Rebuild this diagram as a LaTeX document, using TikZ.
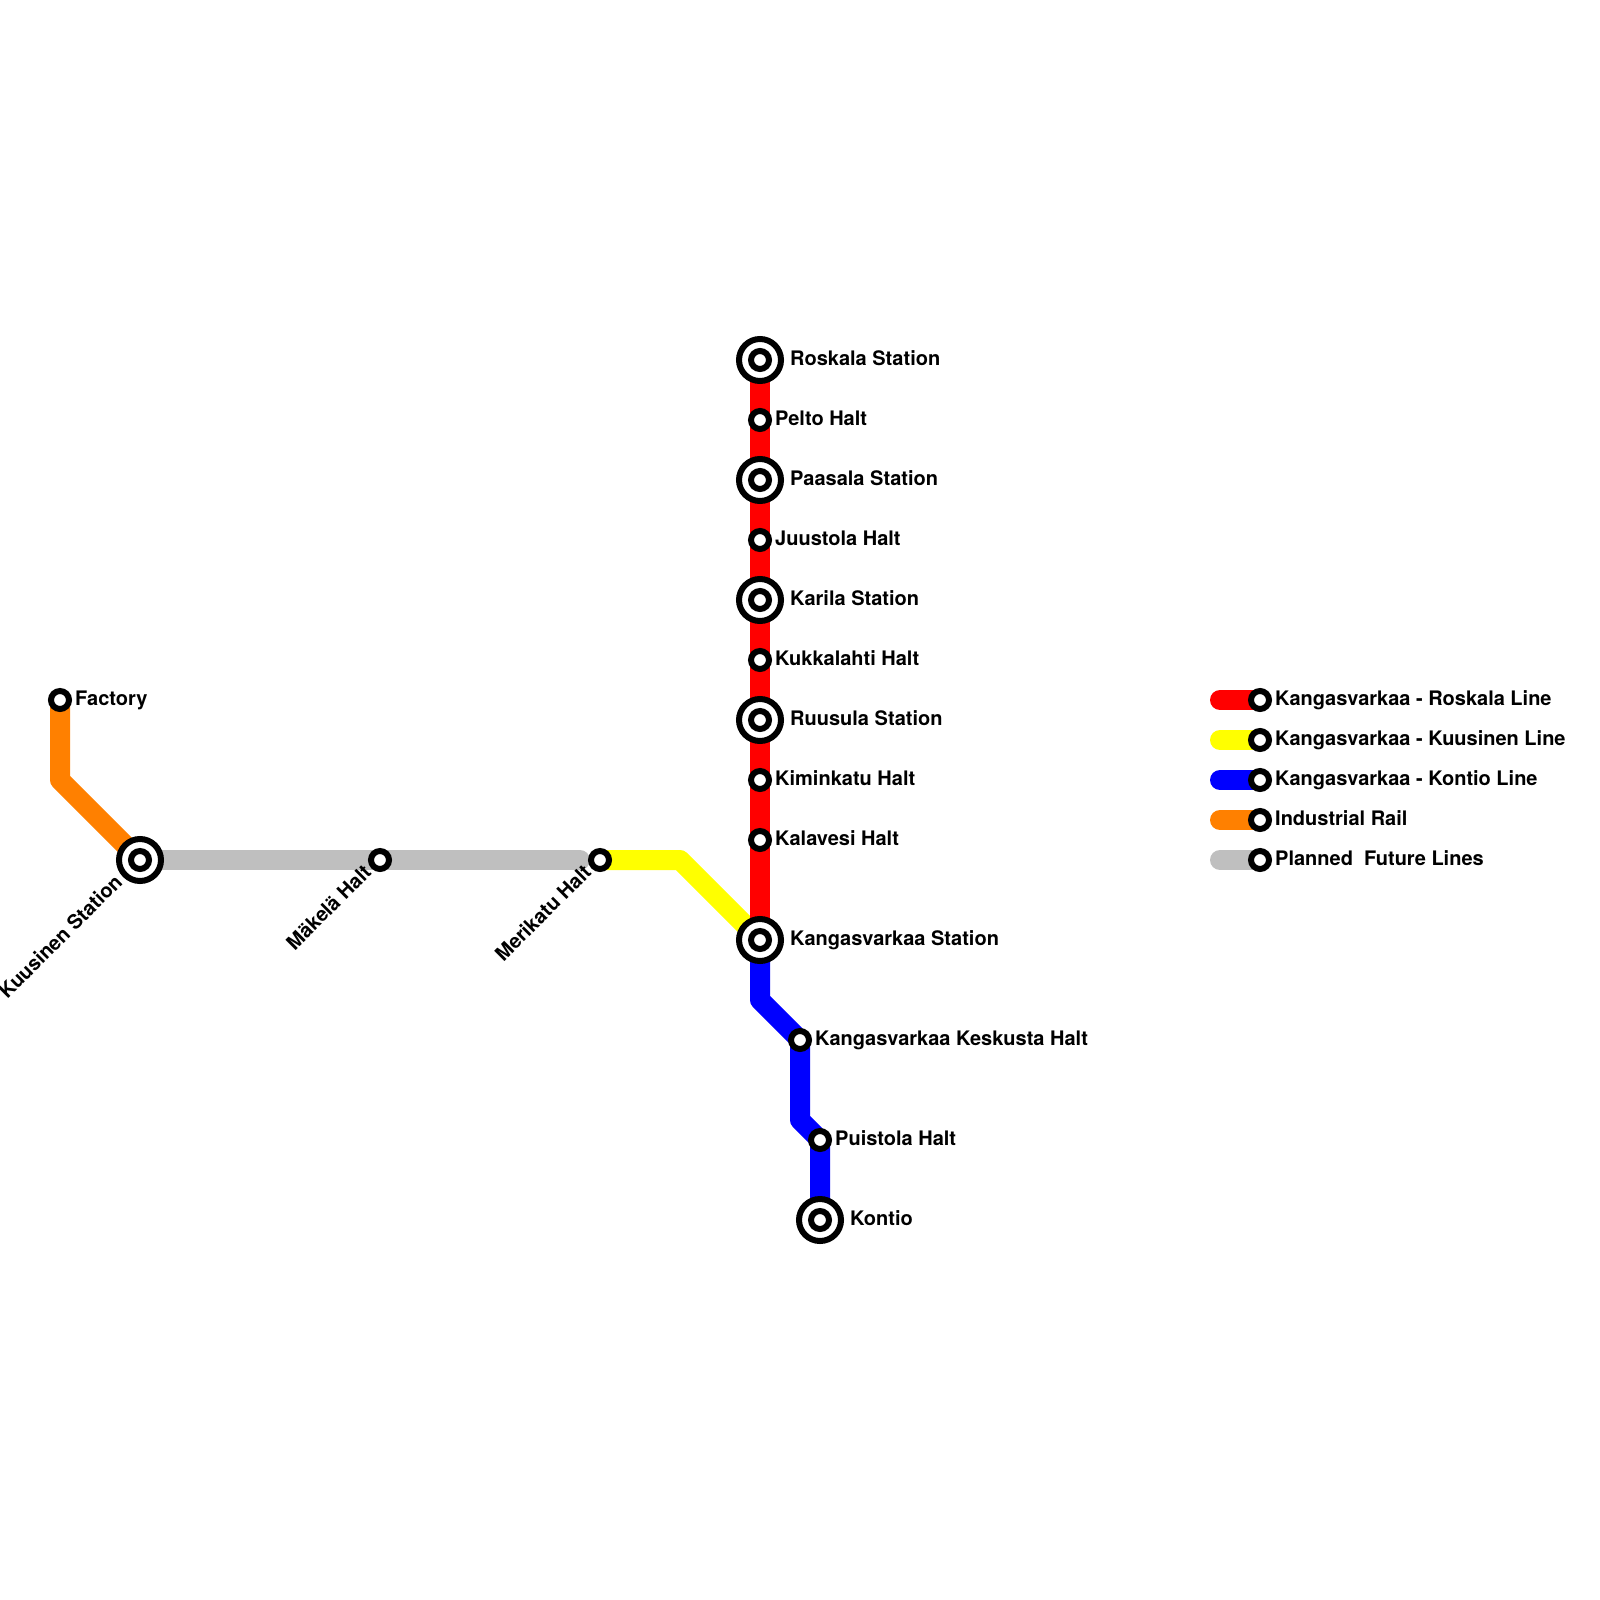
\documentclass[tikz,border=0pt]{standalone}
\usepackage{xcolor}
\usepackage{fontspec}
\setmainfont{TeX Gyre Heros}
\usetikzlibrary{backgrounds}
\definecolor{roskalared}{RGB}{255,0,0}
\definecolor{kuusinenyellow}{RGB}{255,255,0}
\definecolor{kontioblue}{RGB}{0,0,255}
\definecolor{railorange}{RGB}{255,128,0}
\definecolor{plannedgrey}{RGB}{191,191,191}
\tikzset{
    track/.style={line width=20pt, line cap=round, line join=round},
    halt/.style={circle, draw=black, fill=white, line width=6pt, minimum size=18pt, inner sep=0pt, outer sep=0pt},
    station/.style={
        circle, draw=black, fill=white, line width=6pt, minimum size=42pt, inner sep=0pt, outer sep=0pt,
        path picture={\draw[black, line width=6pt] (path picture bounding box.center) circle (9pt);}
    },
    place/.style={font=\fontsize{20}{22}\selectfont\bfseries, inner sep=0pt, text height=14pt, text depth=4pt}
}

\begin{document}
\begin{tikzpicture}[x=1pt, y=-1pt]
    \useasboundingbox (0,0) rectangle (1600,1600);

    % red line
    \node[station] (roskala) at (760,360) {};
    \node[halt] (pelto) at (760,420) {};
    \node[station] (paasala) at (760,480) {};
    \node[halt] (juustola) at (760,540) {};
    \node[station] (karila) at (760,600) {};
    \node[halt] (kukkalahti) at (760,660) {};
    \node[station] (ruusula) at (760,720) {};
    \node[halt] (kiminkatu) at (760,780) {};
    \node[halt] (kalavesi) at (760,840) {};
    \node[station] (kangasvarkaa) at (760,940) {};

    % blue line
    \node[halt] (keskusta) at (800,1040) {};
    \node[halt] (puistola) at (820,1140) {};
    \node[station] (kontio) at (820,1220) {};
    \coordinate (bluebendA) at (760,1000);
    \coordinate (bluebendB) at (800,1120);

    % west side
    \node[halt] (factory) at (60,700) {};
    \node[station] (kuusinen) at (140,860) {};
    \node[halt] (makela) at (380,860) {};
    \node[halt] (merikatu) at (600,860) {};
    \coordinate (orangebend) at (60,780);
    \coordinate (yellowbend) at (680,860);
    \coordinate (greyend) at (580,860);

    % legend
    \node[halt] (keyred) at (1260,700) {};
    \node[halt] (keyyellow) at (1260,740) {};
    \node[halt] (keyblue) at (1260,780) {};
    \node[halt] (keyorange) at (1260,820) {};
    \node[halt] (keygrey) at (1260,860) {};
    \coordinate (keyredend) at (1220,700);
    \coordinate (keyyellowend) at (1220,740);
    \coordinate (keyblueend) at (1220,780);
    \coordinate (keyorangeend) at (1220,820);
    \coordinate (keygreyend) at (1220,860);

    \begin{scope}[on background layer]
        \draw[track, plannedgrey] (kuusinen.center) -- (makela.center) -- (greyend);
        \draw[track, railorange] (factory.center) -- (orangebend) -- (kuusinen.center);
        \draw[track, kuusinenyellow] (merikatu.center) -- (yellowbend) -- (kangasvarkaa.center);
        \draw[track, kontioblue] (kangasvarkaa.center) -- (bluebendA) -- (keskusta.center) -- (bluebendB) -- (puistola.center) -- (kontio.center);
        \draw[track, roskalared] (roskala.center) -- (kangasvarkaa.center);
        \draw[track, roskalared] (keyredend) -- (keyred.center);
        \draw[track, kuusinenyellow] (keyyellowend) -- (keyyellow.center);
        \draw[track, kontioblue] (keyblueend) -- (keyblue.center);
        \draw[track, railorange] (keyorangeend) -- (keyorange.center);
        \draw[track, plannedgrey] (keygreyend) -- (keygrey.center);
    \end{scope}

    % names
    \node[place, anchor=west] (roskalaname) at (790,360) {Roskala Station};
    \node[place, anchor=west] (peltoname) at (775,420) {Pelto Halt};
    \node[place, anchor=west] (paasalaname) at (790,480) {Paasala Station};
    \node[place, anchor=west] (juustolaname) at (775,540) {Juustola Halt};
    \node[place, anchor=west] (karilaname) at (790,600) {Karila Station};
    \node[place, anchor=west] (kukkalahtiname) at (775,660) {Kukkalahti Halt};
    \node[place, anchor=west] (ruusulaname) at (790,720) {Ruusula Station};
    \node[place, anchor=west] (kiminkatuname) at (775,780) {Kiminkatu Halt};
    \node[place, anchor=west] (kalavesiname) at (775,840) {Kalavesi Halt};
    \node[place, anchor=west] (kangasvarkaaname) at (790,940) {Kangasvarkaa Station};
    \node[place, anchor=west] (keskustaname) at (815,1040) {Kangasvarkaa Keskusta Halt};
    \node[place, anchor=west] (puistolaname) at (835,1140) {Puistola Halt};
    \node[place, anchor=west] (kontioname) at (850,1220) {Kontio};
    \node[place, anchor=west] (factoryname) at (75,700) {Factory};
    \node[place, anchor=east, rotate=45] (kuusinenname) at (120,880) {Kuusinen Station};
    \node[place, anchor=east, rotate=45] (makelaname) at (369,870) {Mäkelä Halt};
    \node[place, anchor=east, rotate=45] (merikatuname) at (589,870) {Merikatu Halt};

    \node[place, anchor=west] (keyredname) at (1275,700) {Kangasvarkaa - Roskala Line};
    \node[place, anchor=west] (keyyellowname) at (1275,740) {Kangasvarkaa - Kuusinen Line};
    \node[place, anchor=west] (keybluename) at (1275,780) {Kangasvarkaa - Kontio Line};
    \node[place, anchor=west] (keyorangename) at (1275,820) {Industrial Rail};
    \node[place, anchor=west] (keygreyname) at (1275,860) {Planned\ \ Future Lines};
\end{tikzpicture}
\end{document}
